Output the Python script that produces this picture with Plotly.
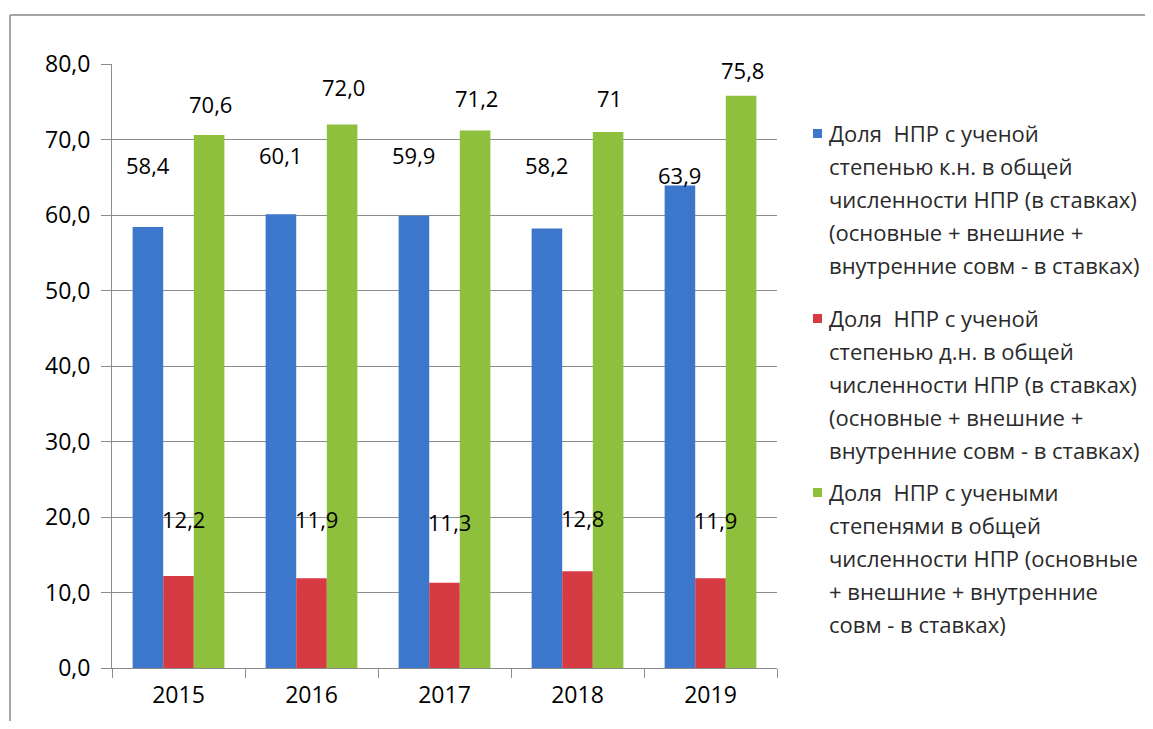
import plotly.graph_objects as go

years = ["2015", "2016", "2017", "2018", "2019"]
kn_values = [58.4, 60.1, 59.9, 58.2, 63.9]
dn_values = [12.2, 11.9, 11.3, 12.8, 11.9]
all_values = [70.6, 72.0, 71.2, 71.0, 75.8]
kn_labels = ["58,4", "60,1", "59,9", "58,2", "63,9"]
dn_labels = ["12,2", "11,9", "11,3", "12,8", "11,9"]
all_labels = ["70,6", "72,0", "71,2", "71", "75,8"]

legend_kn = ["Доля  НПР с ученой", "степенью к.н. в общей", "численности НПР (в ставках)",
             "(основные + внешние +", "внутренние совм - в ставках)"]
legend_dn = ["Доля  НПР с ученой", "степенью д.н. в общей", "численности НПР (в ставках)",
             "(основные + внешние +", "внутренние совм - в ставках)"]
legend_all = ["Доля  НПР с учеными", "степенями в общей", "численности НПР (основные",
              "+ внешние + внутренние", "совм - в ставках)"]

# styles / positions (pixel offsets for data labels)
kn_shift = [62, 59, 61, 64, 11]
dn_shift = [57, 59, 61, 53, 58]
all_shift = [31, 37, 32, 34, 26]

C_BLUE = "#3D77CB"
C_RED = "#D63A43"
C_GREEN = "#8EC03E"
FONT = "Open Sans"

OFF = 8  # page body margin
W, H = 1153 - 2 * OFF, 729 - 2 * OFF
L, R, T, B = 112 - OFF, 777 - OFF, 64 - OFF, 668 - OFF

fig = go.Figure()
fig.add_trace(go.Bar(x=years, y=kn_values, marker=dict(color=C_BLUE, line=dict(width=0)), name="kn"))
fig.add_trace(go.Bar(x=years, y=dn_values, marker=dict(color=C_RED, line=dict(width=0)), name="dn"))
fig.add_trace(go.Bar(x=years, y=all_values, marker=dict(color=C_GREEN, line=dict(width=0)), name="all"))

ann = []
for vals, labs, shifts, xs in [(kn_values, kn_labels, kn_shift, -31),
                               (dn_values, dn_labels, dn_shift, 5),
                               (all_values, all_labels, all_shift, 32)]:
    for i, (v, lab, s) in enumerate(zip(vals, labs, shifts)):
        ann.append(dict(x=i, y=v, xref="x", yref="y", text=lab, showarrow=False,
                        xshift=xs, yshift=s, yanchor="middle", xanchor="center",
                        font=dict(family=FONT, size=22, color="#000")))


def px(xp):
    return (xp - OFF - L) / (R - L)


def py(yp):
    return (B - (yp - OFF)) / (B - T)


shapes = []
legend_blocks = [(legend_kn, C_BLUE, 133), (legend_dn, C_RED, 318), (legend_all, C_GREEN, 492)]
for lines, col, y0 in legend_blocks:
    shapes.append(dict(type="rect", xref="paper", yref="paper",
                       x0=px(813), x1=px(822), y0=py(y0 + 5), y1=py(y0 - 4),
                       fillcolor=col, line=dict(width=0)))
    for i, line in enumerate(lines):
        ann.append(dict(x=px(827), y=py(y0 + i * 33), xref="paper", yref="paper",
                        text=line, showarrow=False, xanchor="left", yanchor="middle",
                        font=dict(family=FONT, size=22, color="#2a2a2a")))

# outer chart frame
shapes.append(dict(type="line", xref="paper", yref="paper", x0=px(10), x1=px(1160),
                   y0=py(15), y1=py(15), line=dict(color="#A6A6A6", width=2)))
shapes.append(dict(type="line", xref="paper", yref="paper", x0=px(10), x1=px(10),
                   y0=py(15), y1=py(740), line=dict(color="#A6A6A6", width=2)))

fig.update_layout(
    width=W, height=H,
    margin=dict(l=L, r=W - R, t=T, b=H - B, autoexpand=False),
    paper_bgcolor="white", plot_bgcolor="white",
    barmode="group", bargap=0.31, bargroupgap=0,
    showlegend=False,
    separators=", ",
    annotations=ann, shapes=shapes,
    font=dict(family=FONT, color="#000"),
)
fig.update_yaxes(range=[0, 80], dtick=10, tickformat=".1f",
                 showgrid=True, gridcolor="#8C8C8C", gridwidth=1,
                 showline=True, linecolor="#8C8C8C", linewidth=1,
                 ticks="outside", ticklen=10, tickcolor="#8C8C8C", ticklabelstandoff=6,
                 tickfont=dict(family=FONT, size=23, color="#000"), zeroline=False)
fig.update_xaxes(type="category", range=[-0.5, len(years) - 0.5],
                 showline=True, linecolor="#8C8C8C", linewidth=1,
                 ticks="outside", ticklen=9, tickcolor="#8C8C8C", tickson="boundaries",
                 ticklabelstandoff=6,
                 tickfont=dict(family=FONT, size=23, color="#000"))

fig.write_html("out.html")
